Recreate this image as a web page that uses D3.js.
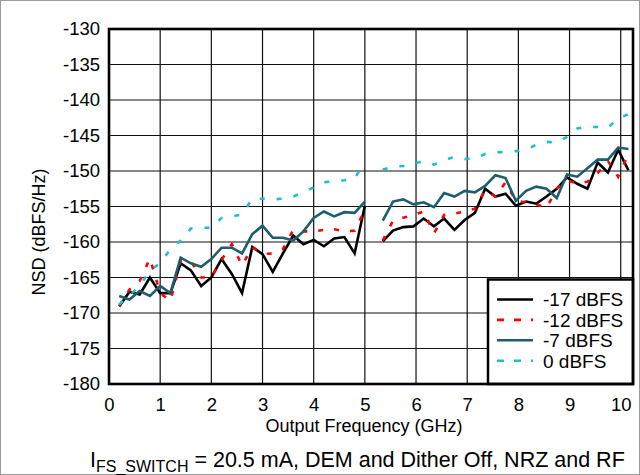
<!DOCTYPE html>
<html><head><meta charset="utf-8">
<script src="https://cdn.jsdelivr.net/npm/d3@7/dist/d3.min.js"></script>
<style>
body{margin:0;background:#fff}
svg{display:block}
text{font-family:"Liberation Sans",Arial,Helvetica,sans-serif;fill:#000}
</style>
</head><body>
<svg id="c" width="640" height="475"></svg>
<script>
// ---- data ----
const freqLow  = [0.2,0.4,0.6,0.8,1.0,1.2,1.4,1.6,1.8,2.0,2.2,2.4,2.6,2.8,3.0,3.2,3.4,3.6,3.8,4.0,4.2,4.4,4.6,4.8,5.0];
const freqHigh = [5.35,5.55,5.75,5.95,6.15,6.35,6.55,6.75,6.95,7.15,7.35,7.55,7.75,7.95,8.15,8.35,8.55,8.75,8.95,9.15,9.35,9.55,9.75,9.95,10.15];

const m17Low  = [-169.1,-167.0,-167.4,-165.0,-167.2,-167.2,-163.0,-164.0,-166.2,-165.0,-162.4,-164.5,-167.2,-160.7,-161.7,-164.2,-161.6,-159.1,-160.3,-159.7,-160.6,-159.5,-159.3,-161.6,-154.9];
const m17High = [-159.9,-158.4,-157.9,-157.8,-156.7,-157.8,-156.7,-158.3,-156.9,-155.9,-152.5,-153.6,-153.2,-154.9,-154.3,-154.6,-153.6,-152.5,-150.9,-151.8,-152.5,-148.8,-150.2,-147.0,-149.9];

const m12Low  = [-169.0,-166.7,-165.5,-162.3,-167.2,-168.3,-162.7,-162.7,-165.0,-165.0,-162.5,-160.3,-163.3,-160.7,-161.7,-161.6,-161.0,-158.3,-158.5,-158.5,-158.3,-158.2,-158.5,-158.4,-155.5];
const m12High = [-159.8,-157.0,-156.6,-156.2,-155.7,-158.8,-156.2,-156.0,-155.7,-155.3,-152.7,-153.6,-151.6,-154.2,-154.4,-154.7,-155.2,-152.5,-151.3,-151.8,-151.5,-150.3,-148.6,-150.8,-147.6];

const m7Low   = [-167.6,-168.1,-166.9,-167.6,-166.2,-167.2,-162.2,-163.0,-163.5,-162.4,-160.8,-160.8,-161.6,-158.9,-157.7,-159.4,-159.4,-159.8,-158.5,-156.6,-155.7,-156.4,-155.8,-155.9,-154.3];
const m7High  = [-157.0,-154.3,-154.0,-154.7,-154.4,-155.1,-153.1,-153.6,-152.8,-153.0,-152.1,-150.6,-151.0,-154.2,-152.8,-152.2,-152.5,-153.8,-150.5,-150.8,-149.6,-148.4,-148.4,-146.7,-146.9];

const m0Low   = [-168.8,-167.5,-166.2,-164.0,-163.0,-161.0,-159.8,-158.1,-158.0,-158.0,-156.6,-156.4,-156.1,-153.9,-153.9,-154.0,-153.9,-153.6,-153.0,-152.3,-151.6,-151.4,-151.3,-151.1,-148.6];
const m0High  = [-149.8,-149.4,-149.3,-149.0,-148.6,-149.1,-148.5,-148.0,-148.3,-148.2,-147.6,-147.4,-147.3,-147.2,-147.0,-146.3,-145.9,-146.0,-145.2,-144.0,-143.8,-143.8,-143.9,-142.6,-142.0];

const seriesNames = ["-17 dBFS","-12 dBFS","-7 dBFS","0 dBFS"];
const xTicks = [0,1,2,3,4,5,6,7,8,9,10];
const yTicks = [-130,-135,-140,-145,-150,-155,-160,-165,-170,-175,-180];
const xTitle = "Output Frequency (GHz)";
const yTitle = "NSD (dBFS/Hz)";

// ---- styles ----
const styles = [
  {color:"#000000", dash:null},
  {color:"#ff0000", dash:"5,11"},
  {color:"#1c5e6e", dash:null},
  {color:"#1bbfd2", dash:"5,12"}
];
const seriesLow  = [m17Low, m12Low, m7Low, m0Low];
const seriesHigh = [m17High, m12High, m7High, m0High];

const svg = d3.select("#c");
const L = 109, R = 633, T = 29, B = 384;
const x = d3.scaleLinear().domain([0, 10.24]).range([L, R]);
const y = d3.scaleLinear().domain([-180, -130]).range([B, T]);

svg.append("rect").attr("x",0.5).attr("y",0.5).attr("width",639).attr("height",474)
  .attr("fill","#fff").attr("stroke","#9a9a9a").attr("stroke-width",1);

// grid
const grid = svg.append("g");
grid.selectAll("line.v").data(xTicks.filter(d=>d>0)).join("line")
  .attr("x1",d=>x(d)).attr("x2",d=>x(d)).attr("y1",T).attr("y2",B)
  .attr("stroke","#111").attr("stroke-width",1.2);
grid.selectAll("line.h").data(yTicks.filter(d=>d>-180 && d<-130)).join("line")
  .attr("x1",L).attr("x2",R).attr("y1",d=>y(d)).attr("y2",d=>y(d))
  .attr("stroke","#111").attr("stroke-width",1.2);

// axes
const yAxis = svg.append("g").attr("transform",`translate(${L},0)`)
  .call(d3.axisLeft(y).tickValues(yTicks).tickSize(0).tickPadding(9).tickFormat(d=>String(d)));
yAxis.select(".domain").remove();
yAxis.selectAll("text").style("font-size","18.5px").attr("fill","#000");

const xAxis = svg.append("g").attr("transform",`translate(0,${B})`)
  .call(d3.axisBottom(x).tickValues(xTicks).tickSize(0).tickPadding(14).tickFormat(d=>String(d)));
xAxis.select(".domain").remove();
xAxis.selectAll("text").style("font-size","18.5px").attr("fill","#000");

// clip
svg.append("clipPath").attr("id","pc").append("rect")
  .attr("x",L).attr("y",T).attr("width",R-L).attr("height",B-T);

const line = d3.line().x(d=>x(d[0])).y(d=>y(d[1]));
const plot = svg.append("g").attr("clip-path","url(#pc)");
[0,1,2,3].forEach(i=>{
  [[freqLow, seriesLow[i]],[freqHigh, seriesHigh[i]]].forEach(([fx, vy])=>{
    plot.append("path")
      .datum(fx.map((f,k)=>[f, vy[k]]))
      .attr("d", line)
      .attr("fill","none")
      .attr("stroke", styles[i].color)
      .attr("stroke-width", 2.6)
      .attr("stroke-linejoin","miter")
      .attr("stroke-dasharray", styles[i].dash);
  });
});

// legend
const lgX = 488, lgY = 279.5;
const lg = svg.append("g");
lg.append("rect").attr("x",lgX).attr("y",lgY).attr("width",R-lgX).attr("height",B-lgY)
  .attr("fill","#fff").attr("stroke","#000").attr("stroke-width",2.5);
seriesNames.forEach((name,i)=>{
  const ly = 299.5 + i*20.4;
  lg.append("line").attr("x1",497).attr("x2",533).attr("y1",ly).attr("y2",ly)
    .attr("stroke",styles[i].color).attr("stroke-width",2.6)
    .attr("stroke-dasharray", styles[i].dash ? "7,10" : null);
  lg.append("text").attr("x",543).attr("y",ly+6.8).style("font-size","19px").text(name);
});

// plot border
svg.append("rect").attr("x",L).attr("y",T).attr("width",R-L).attr("height",B-T)
  .attr("fill","none").attr("stroke","#000").attr("stroke-width",2.6);

// titles
svg.append("text").attr("x",(L+R)/2 - 7).attr("y",432).attr("text-anchor","middle")
  .style("font-size","18px").text(xTitle);
svg.append("text").attr("transform","translate(45,232) rotate(-90)").attr("text-anchor","middle")
  .style("font-size","18px").text(yTitle);

// caption
const cap = svg.append("text").attr("x",90).attr("y",467).style("font-size","21.5px");
cap.append("tspan").text("I");
cap.append("tspan").attr("dy",5).style("font-size","16px").text("FS_SWITCH");
cap.append("tspan").attr("dy",-5).text(" = 20.5 mA, DEM and Dither Off, NRZ and RF");
</script>
</body></html>
